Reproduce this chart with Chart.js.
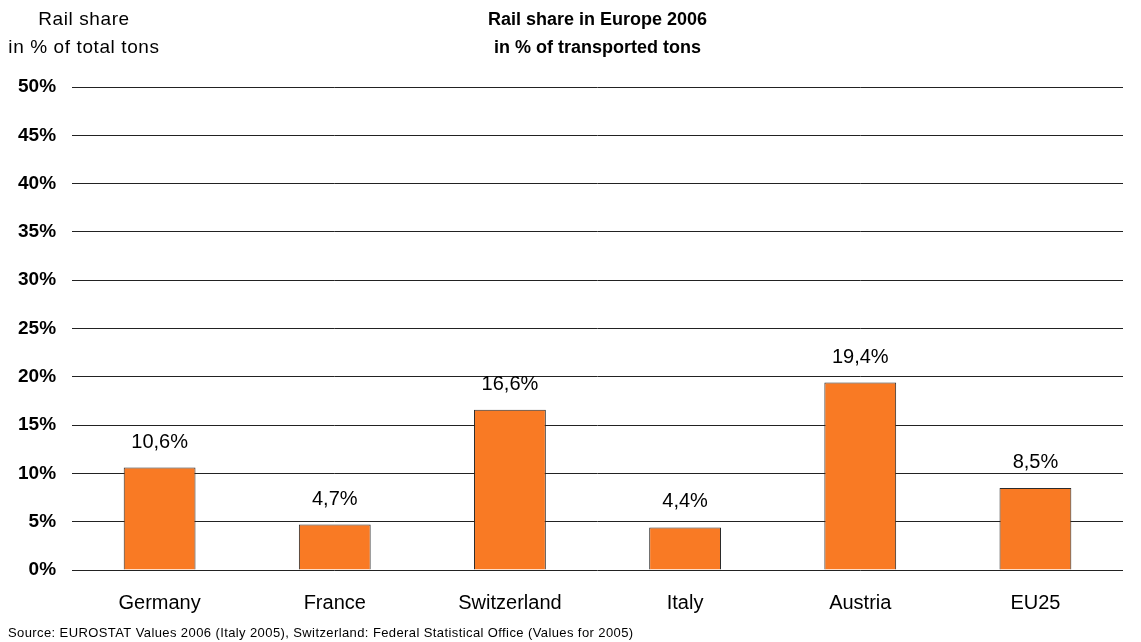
<!DOCTYPE html>
<html>
<head>
<meta charset="utf-8">
<script src="https://cdn.jsdelivr.net/npm/chart.js@4/dist/chart.umd.min.js"></script>
<style>
  html, body { margin: 0; padding: 0; background: #fff; }
  #wrap { width: 1141px; height: 642px; }
</style>
</head>
<body>
<div id="wrap"><canvas id="railShare"></canvas></div>
<script>
const countries = ['Germany', 'France', 'Switzerland', 'Italy', 'Austria', 'EU25'];
const railShare = [10.6, 4.7, 16.6, 4.4, 19.4, 8.5];
const tickValues = [0, 5, 10, 15, 20, 25, 30, 35, 40, 45, 50];

// labels above bars + titles + source line
const textPlugin = {
  id: 'textPlugin',
  afterDatasetsDraw(chart) {
    const ctx = chart.ctx;
    const meta = chart.getDatasetMeta(0);
    ctx.save();
    ctx.fillStyle = '#000';
    ctx.font = '20px "Liberation Sans", Arial, sans-serif';
    ctx.textAlign = 'center';
    ctx.textBaseline = 'alphabetic';
    meta.data.forEach((bar, i) => {
      ctx.fillText(railShare[i].toFixed(1).replace('.', ',') + '%', bar.x, bar.y - 20);
    });

    const ca = chart.chartArea;
    const cx = (ca.left + ca.right) / 2;
    ctx.font = 'bold 18px "Liberation Sans", Arial, sans-serif';
    ctx.fillText('Rail share in Europe 2006', cx, 25);
    ctx.fillText('in % of transported tons', cx, 53);

    ctx.font = '19px "Liberation Sans", Arial, sans-serif';
    ctx.letterSpacing = '0.6px';
    ctx.fillText('Rail share', 84, 25);
    ctx.fillText('in % of total tons', 84, 53);

    ctx.textAlign = 'left';
    ctx.font = '13px "Liberation Sans", Arial, sans-serif';
    ctx.letterSpacing = '0.4px';
    ctx.fillText('Source: EUROSTAT Values 2006 (Italy 2005), Switzerland: Federal Statistical Office (Values for 2005)', 8, 637);
    ctx.restore();
  }
};

const config = {
  type: 'bar',
  data: {
    labels: countries,
    datasets: [{
      data: railShare,
      backgroundColor: '#F97A24',
      borderColor: '#2b2b2b',
      borderWidth: 1,
      barPercentage: 0.41,
      categoryPercentage: 1.0
    }]
  },
  options: {
    responsive: true,
    maintainAspectRatio: false,
    animation: false,
    layout: { padding: { top: 87, bottom: 6, left: 2, right: 18 } },
    plugins: {
      legend: { display: false },
      tooltip: { enabled: false }
    },
    scales: {
      x: {
        grid: { display: false, drawTicks: false },
        border: { display: false },
        ticks: {
          color: '#000',
          padding: 21,
          font: { family: '"Liberation Sans", Arial, sans-serif', size: 20 }
        }
      },
      y: {
        min: 0,
        max: 50,
        afterBuildTicks(axis) {
          axis.ticks = tickValues.map(v => ({ value: v }));
        },
        grid: { color: '#222', lineWidth: 1, drawTicks: false },
        border: { display: false },
        ticks: {
          color: '#000',
          padding: 16,
          font: { family: '"Liberation Sans", Arial, sans-serif', size: 19, weight: 'bold' },
          callback: v => v + '%'
        }
      }
    }
  },
  plugins: [textPlugin]
};

new Chart(document.getElementById('railShare'), config);
</script>
</body>
</html>
